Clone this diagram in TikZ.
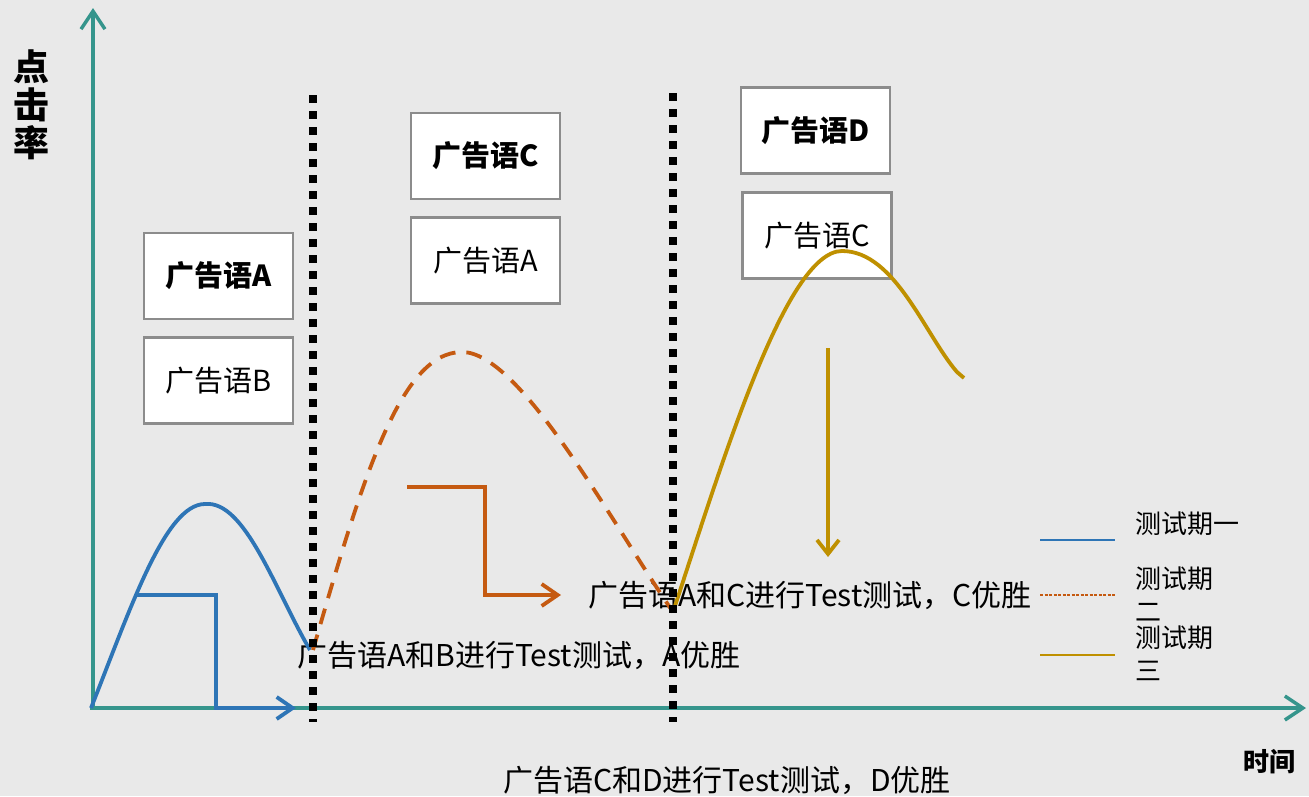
\documentclass[tikz,border=0pt]{standalone}
\usepackage{fontspec}
\setmainfont{Noto Sans CJK SC}
\usetikzlibrary{arrows.meta}
\definecolor{axisteal}{HTML}{35958C}
\definecolor{cblue}{HTML}{2E75B6}
\definecolor{corg}{HTML}{C55A11}
\definecolor{cgold}{HTML}{BF9000}
\definecolor{bgray}{HTML}{E9E9E9}
\definecolor{boxgray}{HTML}{8C8C8C}
\tikzset{
  axisline/.style={draw=axisteal,line width=3.5pt},
  barb/.style={-{Straight Barb[length=18pt,width=24pt,line width=3.5pt]}},
  adbox/.style={draw=boxgray,fill=white,line width=2.5pt,minimum width=149pt,minimum height=86pt,inner sep=0pt,font=\fontsize{29}{33}\selectfont},
  sep/.style={draw=black,line width=7.5pt,dash pattern=on 7.5pt off 8.5pt},
  lbl/.style={font=\fontsize{30}{34}\selectfont,inner sep=0pt},
  legtxt/.style={font=\fontsize{26}{33}\selectfont,inner sep=0pt,align=left,anchor=north west},
}
\begin{document}
\begin{tikzpicture}[x=1pt,y=-1pt]
\fill[bgray] (0,0) rectangle (1309,796);
\useasboundingbox (0,0) rectangle (1309,796);

% axes
\coordinate (O) at (93,708);
\coordinate (Ytop) at (93,8);
\coordinate (X0) at (90,708);
\coordinate (Xend) at (1306,708);
\draw[axisline,barb] (O) -- (Ytop);
\draw[axisline,barb] (X0) -- (Xend);
\node[font=\fontsize{36}{38}\selectfont\bfseries,align=center,inner sep=0pt] (ylab) at (31,105) {点\\击\\率};
\node[font=\fontsize{26}{30}\selectfont\bfseries,inner sep=0pt] (xlab) at (1269,762) {时间};

% boxes
\node[adbox] (bA) at (218.5,276) {\bfseries 广告语A};
\node[adbox] (bB) at (218.5,380.5) {广告语B};
\node[adbox] (bC) at (485.5,156) {\bfseries 广告语C};
\node[adbox] (bA2) at (485.5,260.5) {广告语A};
\node[adbox] (bD) at (815.5,130.5) {\bfseries 广告语D};
\node[adbox] (bC2) at (817,235.5) {广告语C};

% labels
\node[lbl,anchor=west] (t1) at (297,655) {广告语A和B进行Test测试，A优胜};
\node[lbl,anchor=west] (t2) at (588,595) {广告语A和C进行Test测试，C优胜};
\node[lbl,anchor=west] (t3) at (503,780) {广告语C和D进行Test测试，D优胜};

% period 1 (blue)
\coordinate (b0) at (91,708);
\coordinate (bp) at (205,504);
\coordinate (b1) at (310,650);
\draw[cblue,line width=3.8pt] (b0) .. controls (130,610) and (165,504) .. (bp)
   .. controls (245,500) and (275,590) .. (b1);
\coordinate (bs) at (135,595);
\coordinate (bs1) at (216,595);
\coordinate (bs2) at (216,708);
\coordinate (bs3) at (296,708);
\draw[cblue,line width=3.8pt,-{Straight Barb[length=16pt,width=22pt,line width=3.8pt]}] (bs) -- (bs1) -- (bs2) -- (bs3);

% period 2 (orange dashed)
\coordinate (o0) at (313,650);
\coordinate (op) at (462,352);
\coordinate (o1) at (673,612);
\draw[corg,line width=3.8pt,dash pattern=on 16pt off 11pt] (o0) .. controls (362,480) and (400,352) .. (op)
   .. controls (520,352) and (610,520) .. (o1);
\coordinate (os) at (407,487);
\coordinate (os1) at (485,487);
\coordinate (os2) at (485,595);
\coordinate (os3) at (561,595);
\draw[corg,line width=3.8pt,-{Straight Barb[length=16pt,width=22pt,line width=3.8pt]}] (os) -- (os1) -- (os2) -- (os3);

% period 3 (gold)
\coordinate (g0) at (673,612);
\coordinate (gp) at (842,251);
\coordinate (g1) at (957,372);
\coordinate (g2) at (964,378);
\draw[cgold,line width=3.8pt] (g0) .. controls (720,470) and (785,251) .. (gp)
   .. controls (895,251) and (925,335) .. (g1) -- (g2);
\coordinate (gs) at (828,348);
\coordinate (gs1) at (828,557);
\draw[cgold,line width=3.8pt,-{Straight Barb[length=14pt,width=22pt,line width=3.8pt]}] (gs) -- (gs1);

% separators
\coordinate (s1a) at (313,95);
\coordinate (s1b) at (313,722);
\coordinate (s2a) at (673,93);
\coordinate (s2b) at (673,722);
\draw[sep] (s1a) -- (s1b);
\draw[sep] (s2a) -- (s2b);

% legend
\coordinate (l1a) at (1040,540);
\coordinate (l1b) at (1115,540);
\coordinate (l2a) at (1040,595);
\coordinate (l2b) at (1115,595);
\coordinate (l3a) at (1040,655);
\coordinate (l3b) at (1115,655);
\draw[cblue,line width=1.3pt] (l1a) -- (l1b);
\draw[corg,line width=1.3pt,dash pattern=on 3pt off 1.5pt] (l2a) -- (l2b);
\draw[cgold,line width=1.3pt] (l3a) -- (l3b);
\node[legtxt] (lg1) at (1135,512) {测试期一};
\node[legtxt] (lg2) at (1135,567) {测试期\\二};
\node[legtxt] (lg3) at (1135,626) {测试期\\三};
\end{tikzpicture}
\end{document}
